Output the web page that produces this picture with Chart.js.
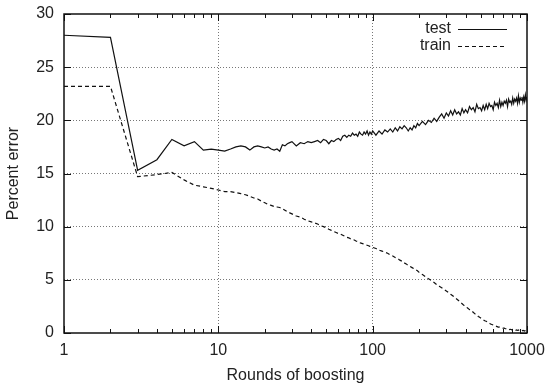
<!DOCTYPE html>
<html>
<head>
<meta charset="utf-8">
<script src="https://cdn.jsdelivr.net/npm/chart.js@4.4.1/dist/chart.umd.min.js"></script>
<style>
  html, body { margin: 0; padding: 0; background: #fff; }
  canvas { display: block; }
</style>
</head>
<body>
<canvas id="boostChart" width="545" height="386"></canvas>
<script>
// boosting rounds (x)
const rounds = [
    1, 2, 3, 4, 5, 6, 7, 8, 9, 10, 11, 12, 13, 14, 15, 16, 17, 18, 19, 20,
    21, 22, 23, 24, 25, 26, 27, 28, 29, 30,
    32, 34, 36, 38, 40, 42, 44, 46, 48, 50, 52, 54, 56, 58, 60, 62, 64, 66, 68, 70,
    72, 74, 76, 78, 80, 82, 84, 86, 88, 90, 92, 94, 96, 98, 100,
    105, 110, 115, 120, 125, 130, 135, 140, 145, 150, 155, 160, 165, 170, 175, 180, 185, 190, 195, 200,
    210, 220, 230, 240, 250, 260, 270, 280, 290, 300, 310, 320, 330, 340, 350, 360, 370, 380, 390, 400,
    412, 424, 436, 448, 460, 472, 484, 496, 508, 520, 532, 544, 556, 568, 580, 592, 604, 616, 628, 640,
    652, 664, 676, 688, 700, 712, 724, 736, 748, 760, 772, 784, 796, 808, 820, 832, 844, 856, 868, 880,
    892, 904, 916, 928, 940, 952, 964, 976, 988, 1000
];

// percent error on the test set
const testError = [
    28.0, 27.8, 15.3, 16.3, 18.2, 17.6, 18.0, 17.2, 17.3, 17.2, 17.1, 17.3, 17.5, 17.6, 17.5, 17.2, 17.5, 17.6, 17.5, 17.4,
    17.5, 17.3, 17.2, 17.3, 17.1, 17.7, 17.6, 17.8, 17.9, 18.0,
    17.6, 17.9, 17.8, 18.0, 17.9, 18.0, 18.1, 17.9, 18.2, 18.1, 17.8, 18.1, 18.0, 18.2, 18.3, 18.1, 18.5, 18.6, 18.4, 18.6,
    18.5, 18.8, 18.6, 18.7, 18.5, 18.9, 18.7, 18.6, 18.9, 18.7, 19.0, 18.6, 18.9, 18.7, 19.0,
    18.6, 19.0, 18.7, 19.1, 18.9, 19.2, 18.9, 19.3, 19.0, 19.4, 19.2, 19.5, 19.3, 19.0, 19.3, 19.1, 19.5, 19.3, 19.7, 19.5,
    19.9, 19.6, 20.0, 19.8, 20.2, 19.9, 20.3, 20.6, 20.2, 20.7, 20.4, 20.9, 20.5, 21.0, 20.6, 20.8, 20.5, 21.1, 20.7, 21.0,
    20.7, 21.3, 21.0, 21.2, 20.8, 21.5, 21.1, 21.2, 20.9, 21.4, 21.0, 21.5, 21.1, 21.6, 21.3, 21.4, 21.0, 21.7, 21.4, 21.6,
    21.2, 21.9, 21.3, 21.7, 21.4, 21.8, 21.6, 21.9, 21.3, 22.0, 21.7, 21.8, 21.5, 22.1, 21.6, 22.0, 21.8, 22.1, 21.6, 22.3,
    21.7, 22.1, 21.9, 22.2, 21.7, 22.2, 21.8, 22.4, 21.9, 22.2
];

// percent error on the training set
const trainError = [
    23.2, 23.2, 14.7, 14.9, 15.1, 14.4, 13.9, 13.75, 13.6, 13.45, 13.3, 13.3, 13.2, 13.1, 13.0, 12.85, 12.7, 12.6, 12.4, 12.25,
    12.1, 12.0, 11.9, 11.85, 11.8, 11.7, 11.55, 11.4, 11.3, 11.2,
    11.0, 10.9, 10.7, 10.55, 10.45, 10.35, 10.25, 10.1, 10.0, 9.9, 9.75, 9.65, 9.55, 9.45, 9.35, 9.3, 9.2, 9.1, 9.0, 8.95,
    8.85, 8.8, 8.75, 8.65, 8.6, 8.5, 8.45, 8.4, 8.35, 8.3, 8.25, 8.2, 8.15, 8.1, 8.05,
    7.95, 7.8, 7.7, 7.6, 7.5, 7.35, 7.25, 7.1, 7.0, 6.85, 6.75, 6.6, 6.5, 6.35, 6.25, 6.15, 6.05, 5.95, 5.85, 5.7,
    5.5, 5.3, 5.1, 4.95, 4.75, 4.55, 4.4, 4.25, 4.1, 3.95, 3.8, 3.65, 3.5, 3.35, 3.2, 3.05, 2.9, 2.75, 2.6, 2.5,
    2.35, 2.2, 2.1, 1.95, 1.8, 1.7, 1.55, 1.45, 1.35, 1.25, 1.15, 1.1, 1.0, 0.95, 0.85, 0.8, 0.75, 0.7, 0.65, 0.6,
    0.55, 0.55, 0.5, 0.5, 0.45, 0.45, 0.4, 0.4, 0.35, 0.38, 0.32, 0.35, 0.3, 0.33, 0.28, 0.3, 0.26, 0.29, 0.24, 0.28,
    0.23, 0.26, 0.22, 0.25, 0.2, 0.24, 0.19, 0.22, 0.18, 0.2
];

// axis ticks
const xTicks = [1, 10, 100, 1000];
const xMinorTicks = [2, 3, 4, 5, 6, 7, 8, 9, 20, 30, 40, 50, 60, 70, 80, 90, 200, 300, 400, 500, 600, 700, 800, 900];
const yTicks = [0, 5, 10, 15, 20, 25, 30];

const FONT = "'Liberation Sans', Arial, Helvetica, sans-serif";

// frame, inward tick marks and the legend (text first, then the line sample)
const framePlugin = {
    id: 'frame',
    afterDatasetsDraw(chart) {
        const { ctx, chartArea: a, scales: { x, y } } = chart;
        ctx.save();
        ctx.strokeStyle = '#111';
        ctx.lineWidth = 1;
        ctx.setLineDash([]);
        ctx.beginPath();
        xTicks.forEach(v => {
            const px = Math.round(x.getPixelForValue(v)) + 0.5;
            ctx.moveTo(px, a.bottom); ctx.lineTo(px, a.bottom - 7);
            ctx.moveTo(px, a.top); ctx.lineTo(px, a.top + 7);
        });
        xMinorTicks.forEach(v => {
            const px = Math.round(x.getPixelForValue(v)) + 0.5;
            ctx.moveTo(px, a.bottom); ctx.lineTo(px, a.bottom - 4);
            ctx.moveTo(px, a.top); ctx.lineTo(px, a.top + 4);
        });
        yTicks.forEach(v => {
            const py = Math.round(y.getPixelForValue(v)) + 0.5;
            ctx.moveTo(a.left, py); ctx.lineTo(a.left + 7, py);
            ctx.moveTo(a.right, py); ctx.lineTo(a.right - 7, py);
        });
        ctx.stroke();
        ctx.lineWidth = 1.5;
        ctx.strokeRect(a.left, a.top, a.right - a.left, a.bottom - a.top);

        // legend
        ctx.font = '16px ' + FONT;
        ctx.fillStyle = '#222';
        ctx.textAlign = 'right';
        ctx.textBaseline = 'middle';
        chart.data.datasets.forEach((ds, i) => {
            const ly = a.top + 15 + i * 17;
            ctx.fillText(ds.label, a.right - 76, ly);
            ctx.strokeStyle = ds.borderColor;
            ctx.lineWidth = 1.2;
            ctx.setLineDash(ds.borderDash || []);
            ctx.beginPath();
            ctx.moveTo(a.right - 69, ly + 0.5);
            ctx.lineTo(a.right - 20, ly + 0.5);
            ctx.stroke();
        });
        ctx.restore();
    }
};

const gridColor = edges => c => edges.includes(c.tick.value) ? 'rgba(0,0,0,0)' : '#777';

new Chart(document.getElementById('boostChart'), {
    type: 'line',
    data: {
        datasets: [{
            label: 'test',
            data: rounds.map((r, i) => ({ x: r, y: testError[i] })),
            borderColor: '#111',
            borderWidth: 1.2,
            pointRadius: 0,
            tension: 0
        }, {
            label: 'train',
            data: rounds.map((r, i) => ({ x: r, y: trainError[i] })),
            borderColor: '#111',
            borderWidth: 1.2,
            borderDash: [4, 3],
            pointRadius: 0,
            tension: 0
        }]
    },
    options: {
        responsive: false,
        animation: false,
        layout: { padding: { top: 14, right: 18, left: 0, bottom: 0 } },
        plugins: {
            legend: { display: false },
            tooltip: { enabled: false }
        },
        scales: {
            x: {
                type: 'logarithmic',
                min: 1,
                max: 1000,
                afterBuildTicks: s => { s.ticks = xTicks.map(v => ({ value: v })); },
                afterFit: s => { s.height = 53; s.paddingLeft = 0; s.paddingRight = 0; },
                ticks: {
                    autoSkip: false,
                    maxRotation: 0,
                    padding: 8,
                    color: '#222',
                    font: { family: FONT, size: 16 },
                    callback: v => String(v)
                },
                grid: { drawTicks: false, color: gridColor([1, 1000]), lineWidth: 1 },
                border: { display: false, dash: [1, 2] },
                title: {
                    display: true,
                    text: 'Rounds of boosting',
                    color: '#222',
                    font: { family: FONT, size: 16 },
                    padding: { top: 0, bottom: 1 }
                }
            },
            y: {
                min: 0,
                max: 30,
                afterBuildTicks: s => { s.ticks = yTicks.map(v => ({ value: v })); },
                afterFit: s => { s.width = 64; s.paddingTop = 0; s.paddingBottom = 0; },
                ticks: {
                    padding: 10,
                    color: '#222',
                    font: { family: FONT, size: 16 }
                },
                grid: { drawTicks: false, color: gridColor([0, 30]), lineWidth: 1 },
                border: { display: false, dash: [1, 2] },
                title: {
                    display: true,
                    text: 'Percent error',
                    color: '#222',
                    font: { family: FONT, size: 16 },
                    padding: { top: 4, bottom: 0 }
                }
            }
        }
    },
    plugins: [framePlugin]
});
</script>
</body>
</html>
